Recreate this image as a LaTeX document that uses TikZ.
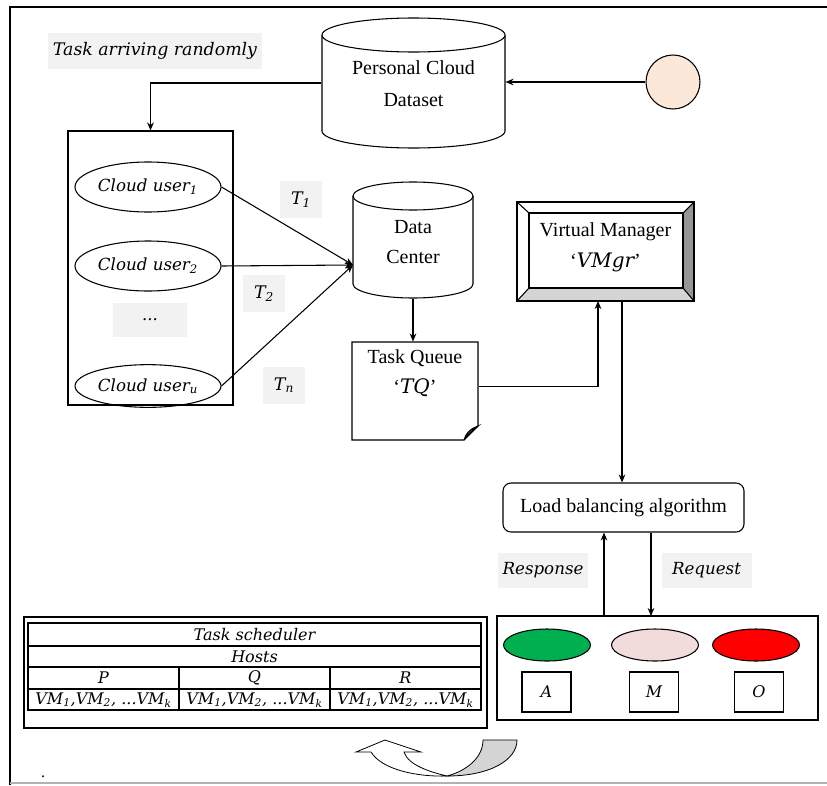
\documentclass[tikz,border=0pt]{standalone}
\usepackage{fontspec}
\setmainfont{Liberation Serif}
\newfontfamily\itfam{DejaVu Serif}
\usetikzlibrary{shapes.geometric,arrows.meta,fit}
\definecolor{lbg}{RGB}{242,242,242}
\definecolor{peach}{RGB}{252,232,217}
\definecolor{okgreen}{RGB}{0,176,80}
\definecolor{pinkish}{RGB}{242,220,219}
\definecolor{darkbev}{RGB}{150,150,150}
\definecolor{lightbev}{RGB}{212,212,212}
\begin{document}
\begin{tikzpicture}[x=0.75pt,y=-0.75pt, line width=0.8pt,
  arr/.style={-{Stealth[length=6pt,width=5pt]}},
  gbox/.style={fill=lbg, inner sep=0},
  itx/.style={font=\itfam\itshape\fontsize{12.5}{14}\selectfont},
  tix/.style={font=\itfam\itshape\fontsize{13}{14}\selectfont},
  smit/.style={font=\itfam\itshape\fontsize{12}{13}\selectfont},
  rmx/.style={font=\fontsize{15}{17}\selectfont, align=center},
]
\useasboundingbox (0,0) rectangle (827,785);
% frame
\draw[line width=1pt] (827,7) -- (10,7) -- (10,785);
\draw[gray!60, line width=1pt] (10,783) -- (827,783);
\node[inner sep=0, font=\fontsize{12}{12}\selectfont] (dot) at (43,777) {.};

% label Task arriving randomly
\node[gbox, minimum width=160.5pt, minimum height=27pt, tix] (tar) at (155,51) {Task arriving randomly};

% Personal Cloud Dataset cylinder
\draw[fill=white] (322,35) -- (322,131) arc[start angle=180,end angle=0,x radius=91.5,y radius=17] -- (505,35);
\draw[fill=white] (413.5,35) ellipse [x radius=91.5,y radius=17];
\node[fit={(322,18)(505,148)},inner sep=0] (pcd) {};
\node[rmx] (pcdt) at (413.5,84) {Personal Cloud\\[7pt]Dataset};

% circle
\node[draw, circle, fill=peach, minimum size=40.5pt, inner sep=0] (circ) at (673,82) {};
\draw[arr] (circ.west) -- (circ.west -| pcd.east);

% users box
\node[draw, fit={(68,131)(233,405)}, inner sep=0] (users) {};
\draw[arr] (pcd.west) -| (users.north);
\node[draw, ellipse, minimum width=109.5pt, minimum height=37.5pt, inner sep=0, itx] (u1) at (148,187) {Cloud user\textsubscript{1}};
\node[draw, ellipse, minimum width=109.5pt, minimum height=37.5pt, inner sep=0, itx] (u2) at (148,266) {Cloud user\textsubscript{2}};
\node[gbox, minimum width=55.5pt, minimum height=25.5pt, itx] (dots) at (150,320) {...};
\node[draw, ellipse, minimum width=109.5pt, minimum height=32pt, inner sep=0, itx] (uu) at (148,386) {Cloud user\textsubscript{u}};

% Data center cylinder
\draw[fill=white] (353,196) -- (353,284) arc[start angle=180,end angle=0,x radius=60,y radius=14] -- (473,196);
\draw[fill=white] (413,196) ellipse [x radius=60,y radius=14];
\node[fit={(353,182)(473,298)},inner sep=0] (dc) {};
\node[rmx] (dct) at (413,242) {Data\\[5pt]Center};
\coordinate (dcin) at (353,265);

\draw[arr] (u1.east) -- (dcin);
\draw[arr] (u2.east) -- (dcin);
\draw[arr] (uu.east) -- (dcin);

% T labels
\node[gbox, minimum width=31.5pt, minimum height=27.75pt, tix] (t1) at (301,199.5) {T\textsubscript{1}};
\node[gbox, minimum width=31.5pt, minimum height=27.75pt, tix] (t2) at (264,293.5) {T\textsubscript{2}};
\node[gbox, minimum width=31.5pt, minimum height=27.75pt, tix] (tn) at (284,385) {T\textsubscript{n}};

% Task Queue document
\draw[fill=white] (352,342) -- (478,342) -- (478,426) -- (464,440) -- (352,440) -- cycle;
\draw[fill=lightbev] (464,440) .. controls (466,434) and (468,430) .. (478,426) .. controls (472,431) and (468,433) .. (464,440) -- cycle;
\node[fit={(352,342)(478,440)},inner sep=0] (tq) {};
\node[rmx] (tqt) at (415,373) {Task Queue\\[5pt]‘{\itfam\itshape TQ}’};
\draw[arr] (dc.south) -- (dc.south |- tq.north);

% Virtual Manager bevel box
\draw[fill=white] (517,202) rectangle (694,301);
\fill[darkbev] (694,202) -- (694,301) -- (683,288) -- (683,213) -- cycle;
\fill[lightbev] (517,301) -- (694,301) -- (683,288) -- (529,288) -- cycle;
\draw (517,202) rectangle (694,301);
\draw (529,213) rectangle (683,288);
\draw (517,202) -- (529,213) (694,202) -- (683,213) (517,301) -- (529,288) (694,301) -- (683,288);
\node[fit={(517,202)(694,301)},inner sep=0] (vm) {};
\node[rmx] (vmt) at (605.5,247.5) {Virtual Manager\\[6pt]‘{\itfam\itshape VMgr}’};
\coordinate (vmin) at (598,301);
\coordinate (vmout) at (622,301);
\draw[arr] ([yshift=3.5pt]tq.east) -| (vmin);

% Load balancing
\node[draw, rounded corners=6pt, minimum width=180.75pt, minimum height=36.75pt, inner sep=0, rmx] (lb) at (623.5,507.5) {Load balancing algorithm};
\draw[arr] (vmout) -- (vmout |- lb.north);

% bottom right box
\node[draw, fit={(497,616)(818,720)}, inner sep=0] (vms) {};
\coordinate (resp) at (604,616);
\coordinate (req) at (651,616);
\draw[arr] (resp) -- (resp |- lb.south);
\draw[arr] (req |- lb.south) -- (req);
\node[gbox, minimum width=67.5pt, minimum height=26.25pt, itx] (respl) at (543,570.5) {Response};
\node[gbox, minimum width=67.5pt, minimum height=26.25pt, itx] (reql) at (706.5,570.5) {Request};

\node[draw, ellipse, fill=okgreen, minimum width=65.25pt, minimum height=24pt, inner sep=0] (eg) at (547,645) {};
\node[draw, ellipse, fill=pinkish, minimum width=65.25pt, minimum height=24pt, inner sep=0] (ep) at (655,645) {};
\node[draw, ellipse, fill=red, minimum width=65.25pt, minimum height=24pt, inner sep=0] (er) at (756,645) {};
\node[draw, minimum width=36.75pt, minimum height=30pt, inner sep=0, smit] (ba) at (546.5,692) {A};
\node[draw, minimum width=36.75pt, minimum height=30pt, inner sep=0, smit] (bm) at (654,692) {M};
\node[draw, minimum width=36.75pt, minimum height=30pt, inner sep=0, smit] (bo) at (759,692) {O};

% Task scheduler table
\node[draw, fit={(24,617)(487,728)}, inner sep=0] (ts) {};
\draw[line width=1.2pt] (28,623) rectangle (481,710);
\draw (28,646) -- (481,646) (28,667) -- (481,667) (28,689) -- (481,689);
\draw (179,667) -- (179,710) (330,667) -- (330,710);
\node[smit] (tsh) at (254.5,634.5) {Task scheduler};
\node[smit] (hosts) at (254.5,656.5) {Hosts};
\node[smit] (hp) at (103.5,678) {P};
\node[smit] (hq) at (254.5,678) {Q};
\node[smit] (hr) at (405.5,678) {R};
\node[smit, inner sep=0] (vp) at (103.5,700) {VM\textsubscript{1},VM\textsubscript{2}, ...VM\textsubscript{k}};
\node[smit, inner sep=0] (vq) at (254.5,700) {VM\textsubscript{1},VM\textsubscript{2}, ...VM\textsubscript{k}};
\node[smit, inner sep=0] (vr) at (405.5,700) {VM\textsubscript{1},VM\textsubscript{2}, ...VM\textsubscript{k}};

% curved arrow
\draw[fill=white, line width=0.6pt] (371,752) .. controls (382,770) and (418,777) .. (447,776) .. controls (430,772) and (408,765) .. (404,752) -- (421,752) -- (385,740) -- (356,752) -- cycle;
\draw[fill=lightbev, line width=0.6pt] (483,740) .. controls (483,758) and (466,771) .. (447,776) .. controls (490,776) and (517,760) .. (517,740) -- cycle;
\end{tikzpicture}
\end{document}
